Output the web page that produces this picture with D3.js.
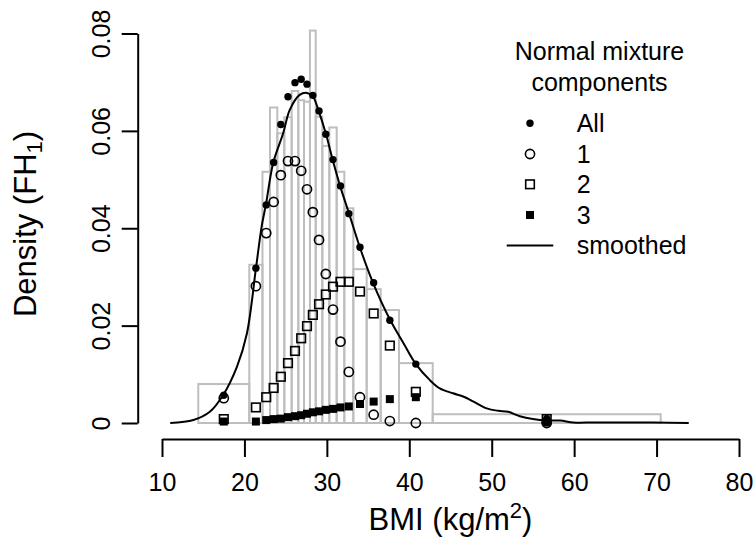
<!DOCTYPE html>
<html><head><meta charset="utf-8">
<script src="https://cdn.jsdelivr.net/npm/d3@7"></script>
<style>body{margin:0;background:#fff}svg{display:block}</style>
</head><body><svg id="c" width="754" height="540"></svg>
<script>
// Histogram (equal-count bins), BMI bin edges and densities
const binEdges = [14.40, 20.59, 22.19, 23.10, 23.99, 24.84, 25.73, 26.54, 27.23, 27.95, 28.65, 29.45, 30.30, 31.19, 32.12, 33.21, 34.83, 36.53, 38.75, 42.84, 70.50];
const binDensity = [0.0080, 0.0325, 0.0516, 0.0648, 0.0595, 0.0628, 0.0682, 0.0663, 0.0660, 0.0806, 0.0629, 0.0569, 0.0607, 0.0516, 0.0441, 0.0316, 0.0275, 0.0232, 0.0123, 0.0018];
// Normal mixture components evaluated at bin midpoints
const compAll = [0.0057, 0.0318, 0.0448, 0.0535, 0.0613, 0.0670, 0.0699, 0.0706, 0.0696, 0.0673, 0.0641, 0.0593, 0.0541, 0.0487, 0.0430, 0.0361, 0.0288, 0.0211, 0.0121, 0.0009];
const comp1 = [0.0051, 0.0281, 0.0390, 0.0454, 0.0509, 0.0538, 0.0538, 0.0518, 0.0480, 0.0433, 0.0376, 0.0306, 0.0233, 0.0167, 0.0105, 0.0053, 0.0017, 0.0004, 0.0000, 0.0000];
const comp2 = [0.0008, 0.0032, 0.0053, 0.0072, 0.0095, 0.0123, 0.0148, 0.0174, 0.0199, 0.0222, 0.0244, 0.0264, 0.0280, 0.0290, 0.0290, 0.0270, 0.0225, 0.0159, 0.0064, 0.0008];
const comp3 = [0.0003, 0.0003, 0.0006, 0.0008, 0.0009, 0.0012, 0.0014, 0.0016, 0.0019, 0.0022, 0.0024, 0.0027, 0.0029, 0.0032, 0.0034, 0.0039, 0.0044, 0.0049, 0.0053, 0.0001];
// Smoothed density
const smoothX = [11.0, 13.8, 15.8, 17.4, 19.1, 20.3, 21.4, 22.1, 22.6, 23.5, 24.7, 25.5, 26.7, 27.6, 28.3, 29.0, 29.9, 30.7, 31.6, 32.7, 34.0, 35.6, 37.7, 39.3, 40.8, 42.5, 43.7, 45.3, 46.6, 47.8, 49.4, 50.8, 52.0, 53.4, 55.0, 56.7, 58.3, 59.9, 62.3, 65.6, 69.6, 73.9];
const smoothY = [0.0000, 0.0006, 0.0023, 0.0057, 0.0116, 0.0184, 0.0318, 0.0405, 0.0448, 0.0535, 0.0595, 0.0643, 0.0674, 0.0678, 0.0671, 0.0641, 0.0593, 0.0541, 0.0487, 0.0430, 0.0361, 0.0288, 0.0211, 0.0164, 0.0121, 0.0088, 0.0071, 0.0061, 0.0054, 0.0044, 0.0030, 0.0025, 0.0023, 0.0014, 0.0008, 0.0005, 0.0005, 0.0001, 0.0001, 0.0001, 0.0001, 0.0000];
const xTicks = [10, 20, 30, 40, 50, 60, 70, 80];
const yTicks = [0, 0.02, 0.04, 0.06, 0.08];
const yTickLabels = ["0", "0.02", "0.04", "0.06", "0.08"];
const legendLabels = ["All", "1", "2", "3", "smoothed"];

const svg = d3.select("#c");
const FONT = "'Liberation Sans', Arial, Helvetica, sans-serif";
const x = d3.scaleLinear().domain([10, 80]).range([162, 739]);
const y = d3.scaleLinear().domain([0, 0.08]).range([423, 33.5]);

// histogram
const bins = binDensity.map((d, i) => ({x0: binEdges[i], x1: binEdges[i + 1], d}));
svg.append("g").selectAll("rect").data(bins).join("rect")
  .attr("x", b => x(b.x0)).attr("width", b => x(b.x1) - x(b.x0))
  .attr("y", b => y(b.d)).attr("height", b => y(0) - y(b.d))
  .attr("fill", "none").attr("stroke", "#bebebe").attr("stroke-width", 2);

const mids = bins.map(b => (b.x0 + b.x1) / 2);

// smoothed line
const line = d3.line().x(d => x(d[0])).y(d => y(d[1])).curve(d3.curveCatmullRom.alpha(0.5));
svg.append("path").datum(smoothX.map((v, i) => [v, smoothY[i]]))
  .attr("d", line).attr("fill", "none").attr("stroke", "#000").attr("stroke-width", 2);

// points
const g = svg.append("g");
g.selectAll(".c3").data(comp3).join("rect").attr("class", "c3")
  .attr("x", (d, i) => x(mids[i]) - 4).attr("y", d => y(d) - 4)
  .attr("width", 8).attr("height", 8).attr("fill", "#000");
g.selectAll(".c2").data(comp2).join("rect").attr("class", "c2")
  .attr("x", (d, i) => x(mids[i]) - 4.3).attr("y", d => y(d) - 4.3)
  .attr("width", 8.6).attr("height", 8.6).attr("fill", "none").attr("stroke", "#000").attr("stroke-width", 1.6);
g.selectAll(".c1").data(comp1).join("circle").attr("class", "c1")
  .attr("cx", (d, i) => x(mids[i])).attr("cy", d => y(d)).attr("r", 4.6)
  .attr("fill", "none").attr("stroke", "#000").attr("stroke-width", 1.6);
g.selectAll(".ca").data(compAll).join("circle").attr("class", "ca")
  .attr("cx", (d, i) => x(mids[i])).attr("cy", d => y(d)).attr("r", 3.7).attr("fill", "#000");

// axes (R style)
const xa = svg.append("g").attr("transform", "translate(0,439)")
  .call(d3.axisBottom(x).tickValues(xTicks).tickSize(18).tickSizeOuter(0).tickFormat(d3.format("d")));
xa.select(".domain").attr("stroke-width", 2);
xa.selectAll(".tick line").attr("stroke-width", 2);
xa.selectAll(".tick text").attr("font-family", FONT).attr("font-size", 25).attr("fill", "#000")
  .attr("y", 0).attr("dy", "52px");

const ya = svg.append("g").attr("transform", "translate(137.7,0)")
  .call(d3.axisLeft(y).tickValues(yTicks).tickSize(16).tickSizeOuter(0).tickFormat((d, i) => yTickLabels[i]));
ya.select(".domain").attr("stroke-width", 2);
ya.selectAll(".tick line").attr("stroke-width", 2);
ya.selectAll(".tick text").attr("font-family", FONT).attr("font-size", 25).attr("fill", "#000")
  .attr("x", null).attr("dy", null).attr("text-anchor", "middle")
  .attr("transform", "translate(-27.7,0) rotate(-90)");

// axis titles
const xt = svg.append("text").attr("x", 450.5).attr("y", 530).attr("text-anchor", "middle")
  .attr("font-family", FONT).attr("font-size", 31);
xt.append("tspan").text("BMI (kg/m");
xt.append("tspan").attr("font-size", 22).attr("dy", -12).text("2");
xt.append("tspan").attr("dy", 12).text(")");

const yt = svg.append("text").attr("transform", "translate(35.7,224) rotate(-90)").attr("text-anchor", "middle")
  .attr("font-family", FONT).attr("font-size", 31);
yt.append("tspan").text("Density (FH");
yt.append("tspan").attr("font-size", 22).attr("dy", 6).text("1");
yt.append("tspan").attr("dy", -6).text(")");

// legend
const lg = svg.append("g").attr("font-family", FONT).attr("font-size", 25);
lg.append("text").attr("x", 599.5).attr("y", 60).attr("text-anchor", "middle").text("Normal mixture");
lg.append("text").attr("x", 599.5).attr("y", 90.7).attr("text-anchor", "middle").text("components");
const ly = [123.3, 154, 184.3, 215, 245.5];
legendLabels.forEach((t, i) => {
  lg.append("text").attr("x", 576.7).attr("y", ly[i] + 8.8).text(t);
});
lg.append("circle").attr("cx", 530).attr("cy", ly[0]).attr("r", 3.7).attr("fill", "#000");
lg.append("circle").attr("cx", 530).attr("cy", ly[1]).attr("r", 4.6).attr("fill", "none").attr("stroke", "#000").attr("stroke-width", 1.6);
lg.append("rect").attr("x", 530 - 4.3).attr("y", ly[2] - 4.3).attr("width", 8.6).attr("height", 8.6).attr("fill", "none").attr("stroke", "#000").attr("stroke-width", 1.6);
lg.append("rect").attr("x", 526).attr("y", ly[3] - 4).attr("width", 8).attr("height", 8).attr("fill", "#000");
lg.append("line").attr("x1", 506.7).attr("x2", 553.3).attr("y1", ly[4]).attr("y2", ly[4]).attr("stroke", "#000").attr("stroke-width", 2);
</script></body></html>
